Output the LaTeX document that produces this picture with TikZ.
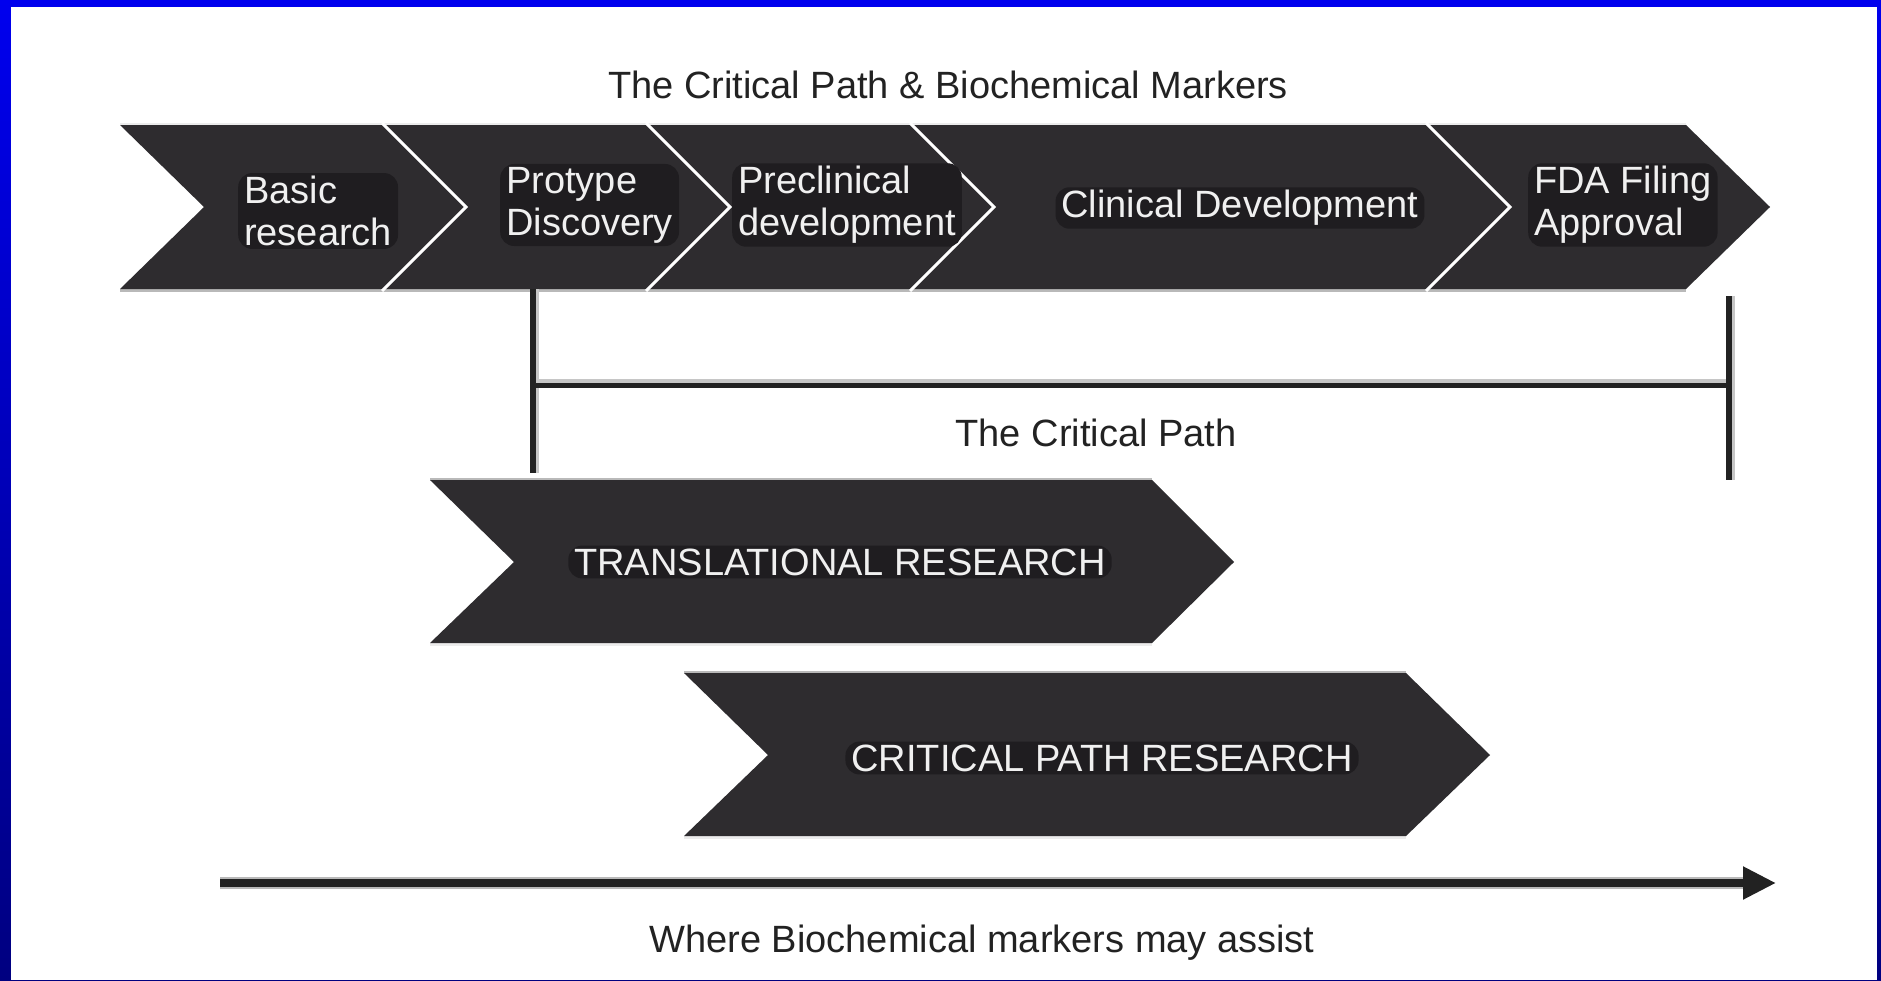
\documentclass[tikz,border=0pt]{standalone}
\usepackage{fontspec}
\setmainfont{Liberation Sans}
\usetikzlibrary{arrows.meta,calc}
\definecolor{chev}{HTML}{2E2C2F}
\definecolor{blob}{HTML}{1F1D20}
\definecolor{ink}{HTML}{222222}
\definecolor{frametop}{HTML}{0000EE}
\definecolor{framebot}{HTML}{000080}
\tikzset{
  lbl/.style={text=white!94!black, fill=blob, rounded corners=14pt,
    inner xsep=6pt, inner ysep=3pt, font=\fontsize{38}{42}\selectfont},
  caption/.style={text=ink, font=\fontsize{38}{42}\selectfont,
    inner sep=0pt, anchor=base},
  sepline/.style={draw=white, line width=3pt, line join=miter},
  bar/.style={draw=ink, line width=6pt},
  barshadow/.style={draw=gray!45, line width=6pt},
  edgedark/.style={draw=gray!55, line width=3pt},
  edgelight/.style={draw=gray!15, line width=2.5pt},
}
\begin{document}
\begin{tikzpicture}[x=1pt,y=-1pt]
\useasboundingbox (0,0) rectangle (1881,980);
% blue frame with vertical shading
\shade[top color=frametop, bottom color=framebot] (0,0) rectangle (1881,980);
\fill[white] (11,7) rectangle (1877,980);

% stage strip
\draw[edgelight] (120,124) -- (1686,124);
\draw[edgedark] (120,290.5) -- (1686,290.5);
\fill[chev] (120,125) -- (1686,125) -- (1770,207) -- (1686,289) -- (120,289) -- (204,207) -- cycle;
\foreach \c in {382,646,910,1426}
  \draw[sepline] (\c,123) -- (\c+84,207) -- (\c,291);

% research chevrons
\draw[edgedark] (430,479) -- (1152,479);
\draw[edgelight] (430,644.5) -- (1152,644.5);
\fill[chev] (430,480) -- (1152,480) -- (1234,562) -- (1152,643) -- (430,643) -- (514,562) -- cycle;
\draw[edgedark] (684,672) -- (1406,672);
\draw[edgelight] (684,837.5) -- (1406,837.5);
\fill[chev] (684,673) -- (1406,673) -- (1490,755) -- (1406,836) -- (684,836) -- (768,755) -- cycle;

% stage labels
\node[lbl, align=left, anchor=west] (basic) at (238,211) {Basic\\research};
\node[lbl, align=left, anchor=west] (proto) at (500,205) {Protype\\Discovery};
\node[lbl, align=left, anchor=west] (precl) at (732,205) {Preclinical\\development};
\node[lbl] (clin) at (1240,208) {Clinical Development};
\node[lbl, align=left, anchor=west] (fda) at (1528,205) {FDA Filing\\Approval};
\node[lbl] (trans) at (840,562) {TRANSLATIONAL RESEARCH};
\node[lbl] (crit) at (1102,758) {CRITICAL PATH RESEARCH};

% critical path bracket
\coordinate (cpL) at (533,289);
\coordinate (cpLb) at (533,473);
\coordinate (cpR) at (1729,296);
\coordinate (cpRb) at (1729,480);
\coordinate (cpHL) at (533,385);
\coordinate (cpHR) at (1729,385);
\draw[barshadow] ($(cpL)+(3,0)$) -- ($(cpLb)+(3,0)$);
\draw[barshadow] ($(cpR)+(3,0)$) -- ($(cpRb)+(3,0)$);
\draw[barshadow] ($(cpHL)+(0,-3)$) -- ($(cpHR)+(0,-3)$);
\draw[bar] (cpL) -- (cpLb);
\draw[bar] (cpR) -- (cpRb);
\draw[bar, line width=5pt] (cpHL) -- (cpHR);

% marker arrow
\coordinate (mS) at (220,883);
\coordinate (mE) at (1776,883);
\draw[gray!55, line width=12pt] (mS) -- ($(mE)+(-32,0)$);
\draw[ink, line width=8pt, -{Triangle[length=33pt,width=31pt]}] (mS) -- (mE);

% captions
\node[caption] (title) at (948,98) {The Critical Path \& Biochemical Markers};
\node[caption] (cplabel) at (1096,446) {The Critical Path};
\node[caption] (where) at (982,952) {Where Biochemical markers may assist};
\end{tikzpicture}
\end{document}
